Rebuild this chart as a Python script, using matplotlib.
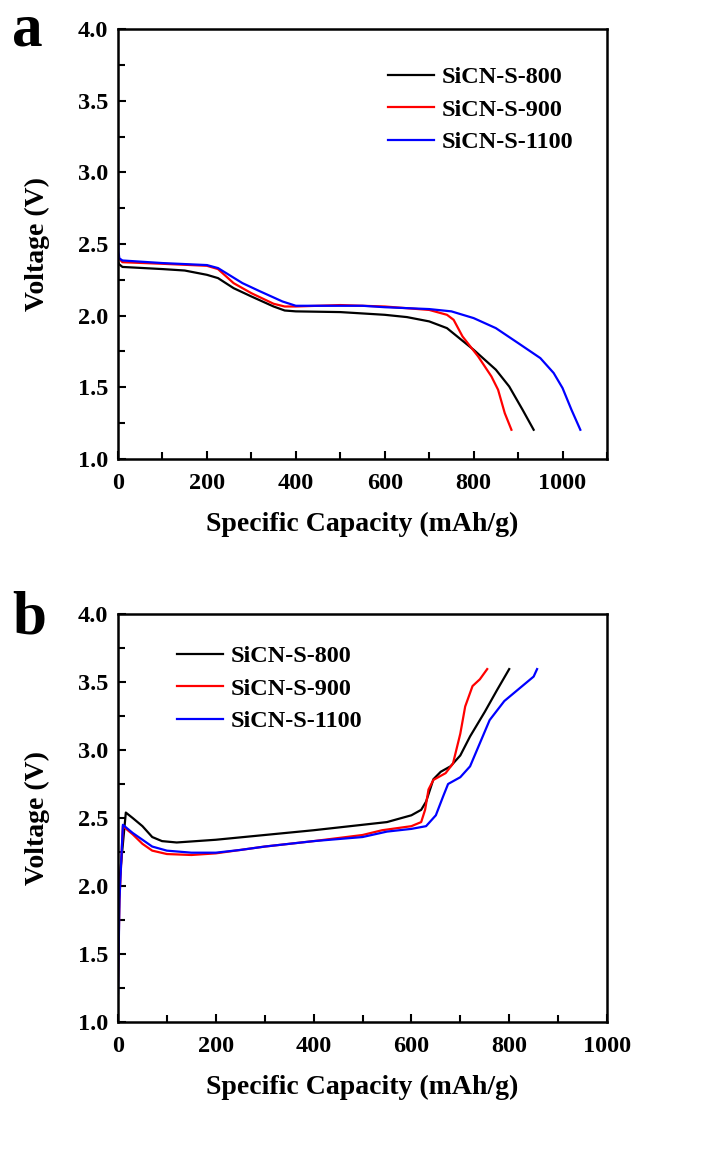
import matplotlib
matplotlib.use("Agg")
import matplotlib.pyplot as plt
from matplotlib.ticker import MultipleLocator

plt.rcParams["font.family"] = ["Liberation Serif", "DejaVu Serif"]
plt.rcParams["font.weight"] = "bold"

labels = ["SiCN-S-800", "SiCN-S-900", "SiCN-S-1100"]
colors = ["black", "red", "blue"]

# (a) discharge curves
cap_800_a = [0, 2, 10, 100, 150, 200, 225, 260, 300, 350, 375, 400, 500, 600, 650, 700, 740, 800, 850, 880, 910, 935]
volt_800_a = [2.38, 2.36, 2.34, 2.325, 2.315, 2.285, 2.262, 2.192, 2.134, 2.064, 2.036, 2.03, 2.025, 2.006, 1.99, 1.96, 1.913, 1.762, 1.623, 1.506, 1.344, 1.204]
cap_900_a = [0, 2, 10, 100, 200, 225, 260, 300, 350, 375, 400, 500, 600, 700, 740, 755, 775, 810, 840, 855, 870, 885]
volt_900_a = [2.42, 2.40, 2.373, 2.362, 2.348, 2.325, 2.227, 2.157, 2.083, 2.064, 2.064, 2.074, 2.064, 2.04, 2.006, 1.971, 1.855, 1.716, 1.576, 1.483, 1.32, 1.204]
cap_1100_a = [0, 1, 3, 10, 100, 200, 225, 280, 320, 370, 400, 500, 550, 600, 700, 750, 800, 850, 900, 950, 980, 1000, 1020, 1040]
volt_1100_a = [2.81, 2.45, 2.40, 2.385, 2.367, 2.353, 2.332, 2.227, 2.169, 2.099, 2.069, 2.069, 2.069, 2.059, 2.046, 2.03, 1.983, 1.913, 1.809, 1.704, 1.6, 1.495, 1.344, 1.204]

# (b) charge curves
cap_800_b = [0, 3, 16, 30, 50, 70, 90, 120, 200, 300, 400, 500, 550, 600, 620, 630, 645, 660, 680, 700, 720, 750, 775, 800]
volt_800_b = [1.5, 2.04, 2.54, 2.50, 2.44, 2.36, 2.33, 2.32, 2.34, 2.375, 2.41, 2.45, 2.47, 2.52, 2.56, 2.62, 2.785, 2.84, 2.88, 2.96, 3.10, 3.28, 3.44, 3.595]
cap_900_b = [0, 3, 10, 30, 50, 70, 100, 150, 200, 250, 300, 400, 500, 540, 600, 620, 628, 635, 645, 670, 685, 700, 710, 725, 740, 755]
volt_900_b = [1.3, 1.9, 2.44, 2.38, 2.31, 2.26, 2.235, 2.228, 2.24, 2.265, 2.29, 2.33, 2.375, 2.41, 2.44, 2.47, 2.56, 2.71, 2.78, 2.83, 2.90, 3.12, 3.32, 3.47, 3.52, 3.595]
cap_1100_b = [0, 3, 10, 30, 50, 70, 100, 150, 200, 250, 300, 400, 500, 550, 600, 630, 650, 665, 675, 700, 720, 740, 760, 790, 830, 850, 857]
volt_1100_b = [1.21, 1.9, 2.45, 2.39, 2.34, 2.29, 2.26, 2.245, 2.245, 2.265, 2.29, 2.33, 2.36, 2.40, 2.42, 2.44, 2.52, 2.66, 2.75, 2.80, 2.88, 3.05, 3.22, 3.36, 3.48, 3.54, 3.595]

W, H = 702, 1151
fig = plt.figure(figsize=(W / 100, H / 100), dpi=100)


def style(ax, xmax):
    ax.set_xlim(0, xmax)
    ax.set_ylim(1.0, 4.0)
    ax.xaxis.set_major_locator(MultipleLocator(200))
    ax.xaxis.set_minor_locator(MultipleLocator(100))
    ax.yaxis.set_minor_locator(MultipleLocator(0.25))
    ax.set_yticks([1.0, 1.5, 2.0, 2.5, 3.0, 3.5, 4.0])
    ax.set_yticklabels(["1.0", "1.5", "2.0", "2.5", "3.0", "3.5", "4.0"])
    ax.tick_params(which="both", direction="in", top=False, right=False, width=1.5, labelsize=17.5)
    ax.tick_params(which="major", length=6)
    ax.tick_params(which="minor", length=5)
    ax.tick_params(axis="x", which="both", pad=10)
    ax.tick_params(axis="y", which="both", pad=7)
    for s in ax.spines.values():
        s.set_linewidth(1.8)
    for t in ax.get_xticklabels() + ax.get_yticklabels():
        t.set_fontweight("bold")
    ax.set_xlabel("Specific Capacity (mAh/g)", fontsize=20, fontweight="bold", labelpad=13)
    ax.set_ylabel("Voltage (V)", fontsize=20, fontweight="bold", labelpad=20)


leg_kw = dict(loc="upper left", frameon=False, borderpad=0, borderaxespad=0,
              handlelength=1.9, handletextpad=0.3, labelspacing=0.43,
              prop={"weight": "bold", "size": 17.5})

# panel a
ax1 = fig.add_axes([118 / W, 1 - 459 / H, 489 / W, 430 / H])
for x, y, c, l in zip([cap_800_a, cap_900_a, cap_1100_a], [volt_800_a, volt_900_a, volt_1100_a], colors, labels):
    ax1.plot(x, y, color=c, lw=1.6, label=l)
style(ax1, 1100)
ax1.legend(bbox_to_anchor=(0.552, 0.913), **leg_kw)

# panel b
ax2 = fig.add_axes([118 / W, 1 - 1022 / H, 489 / W, 408 / H])
for x, y, c, l in zip([cap_800_b, cap_900_b, cap_1100_b], [volt_800_b, volt_900_b, volt_1100_b], colors, labels):
    ax2.plot(x, y, color=c, lw=1.6, label=l)
style(ax2, 1000)
ax2.legend(bbox_to_anchor=(0.121, 0.923), **leg_kw)

fig.text(12 / W, 1 - 46 / H, "a", fontsize=44, fontweight="bold")
fig.text(12 / W, 1 - 634 / H, "b", fontsize=44, fontweight="bold")

fig.savefig("out.png", dpi=100)
